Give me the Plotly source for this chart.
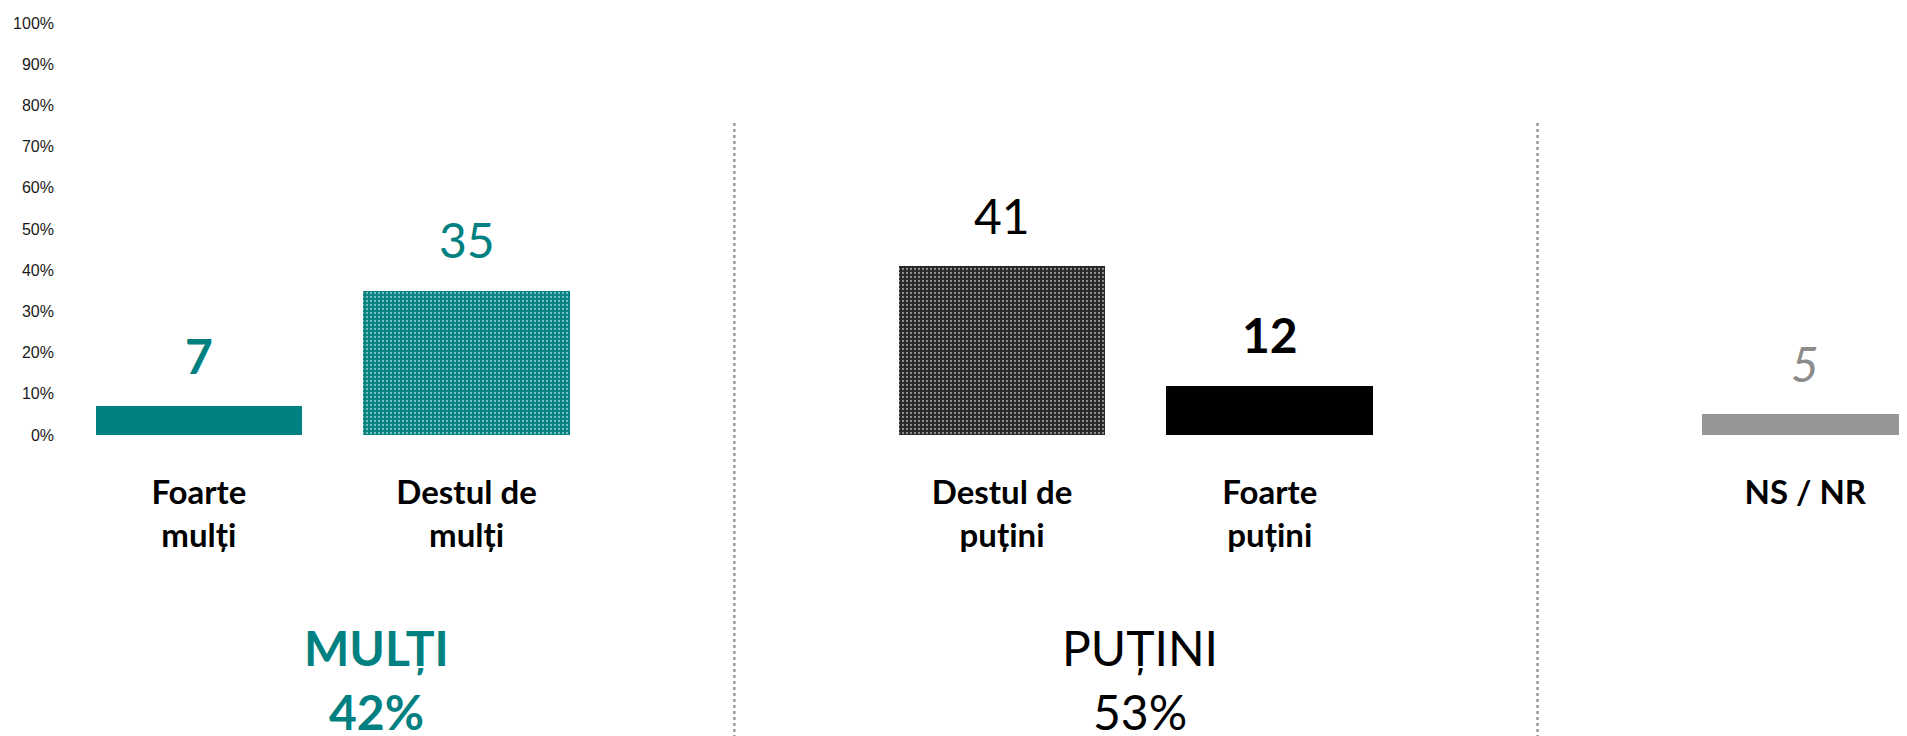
import plotly.graph_objects as go

# data
categories = ["Foarte<br>mulți", "Destul de<br>mulți", "Destul de<br>puțini", "Foarte<br>puțini", "NS / NR"]
values = [7, 35, 41, 12, 5]
bar_group = [0, 0, 1, 1, 2]
group_names = ["MULȚI", "PUȚINI"]
group_totals = [42, 53]
y_ticks = [0, 10, 20, 30, 40, 50, 60, 70, 80, 90, 100]

TEAL = '#008080'
FONT = 'Lato'

# one empty slot between groups
pos = [i + g for i, g in enumerate(bar_group)]
x_range = [-0.5, 6.38]

bar_colors = [TEAL, TEAL, '#262626', 'black', '#969696']
pat_shape = ['', '.', '.', '', '']
pat_dots = [TEAL, '#d5eded', '#f0f0f0', 'black', '#969696']

fig = go.Figure()
fig.add_trace(go.Bar(
    x=pos, y=values, width=0.772,
    marker=dict(
        color=bar_colors,
        line=dict(width=0),
        pattern=dict(shape=pat_shape, fgcolor=pat_dots,
                     size=4, solidity=0.25, fillmode='overlay'),
    ),
    hoverinfo='skip', showlegend=False,
))

# value labels
lbl_fmt = ['<b>{}</b>', '{}', '{}', '<b>{}</b>', '<i>{}</i>']
lbl_col = [TEAL, TEAL, 'black', 'black', '#8c8c8c']
for p, v, f, c in zip(pos, values, lbl_fmt, lbl_col):
    fig.add_annotation(x=p, y=v, text=f.format(v), showarrow=False,
                       yanchor='middle', yshift=51,
                       font=dict(family=FONT, size=48, color=c))

# group labels
grp_fmt = ['<b>{}</b>', '{}']
grp_col = [TEAL, 'black']
grp_shift = [44, 4]
for g, (name, tot) in enumerate(zip(group_names, group_totals)):
    members = [p for p, bg in zip(pos, bar_group) if bg == g]
    cx = sum(members) / len(members)
    fig.add_annotation(x=cx, y=-0.515, yref='paper', text=grp_fmt[g].format(name),
                       showarrow=False, xshift=grp_shift[g], yanchor='middle',
                       font=dict(family=FONT, size=48, color=grp_col[g]))
    fig.add_annotation(x=cx, y=-0.672, yref='paper', text=grp_fmt[g].format(f'{tot}%'),
                       showarrow=False, xshift=grp_shift[g], yanchor='middle',
                       font=dict(family=FONT, size=48, color=grp_col[g]))

# dotted dividers in the empty slots
for a, b in zip(pos[:-1], pos[1:]):
    if b - a > 1:
        xp = ((a + b) / 2 - x_range[0]) / (x_range[1] - x_range[0])
        fig.add_shape(type='line', xref='paper', yref='paper', x0=xp, x1=xp,
                      y0=-0.75, y1=0.757,
                      line=dict(color='#9a9a9a', width=2.5, dash='dot'))

fig.update_layout(
    width=1899, height=728,
    plot_bgcolor='white', paper_bgcolor='white',
    margin=dict(l=57, r=0, t=15, b=301),
    xaxis=dict(
        range=x_range,
        tickvals=pos,
        ticktext=[f'<b>{c}</b>' for c in categories],
        tickfont=dict(family=FONT, size=33, color='black'),
        ticks='outside', ticklen=28, tickcolor='rgba(0,0,0,0)',
        showgrid=False, zeroline=False, showline=False,
    ),
    yaxis=dict(
        range=[0, 100],
        tickvals=y_ticks,
        ticktext=[f'{t}%' for t in y_ticks],
        tickfont=dict(family='Liberation Sans', size=16, color='#1a1a1a'),
        ticklabelstandoff=10,
        showgrid=False, zeroline=False, showline=False,
    ),
    bargap=0,
)

fig.write_html("out.html")
